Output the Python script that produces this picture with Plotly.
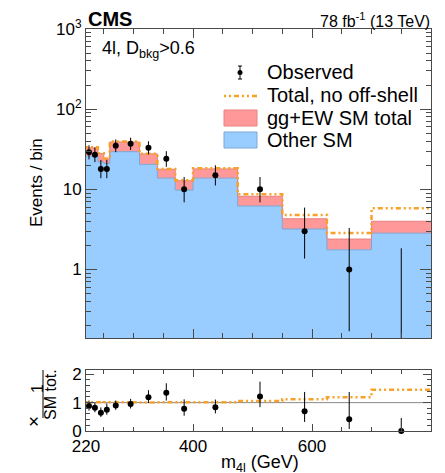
import plotly.graph_objects as go

# ---------------- data ----------------
edges = [220, 230, 240, 250, 260, 280, 310, 340, 370, 400, 475, 550, 625, 700, 800]
other_sm = [26, 26, 22, 21, 29.5, 29.5, 20.5, 13.8, 9.8, 13.8, 6.2, 3.2, 1.76, 2.84]
sm_total = [33, 33, 28, 24, 39, 39, 27.7, 17.8, 12.8, 18, 8.2, 4.3, 2.4, 4.0]
no_offshell = [33.5, 33.5, 28.3, 24.3, 39.5, 39.5, 27.9, 18.0, 13.0, 18.3, 8.7, 4.8, 2.85, 5.8]
observed = [29, 27, 18, 18, 35, 37, 33, 24, 10, 15, 10, 3, 1, 0]
obs_err_lo = [5.36, 5.17, 4.22, 4.22, 5.89, 6.06, 5.72, 4.88, 3.11, 3.82, 3.11, 1.63, 0.83, 0.0]
obs_err_hi = [6.44, 6.23, 5.30, 5.30, 6.97, 7.14, 6.80, 5.95, 4.27, 4.95, 4.27, 2.92, 2.30, 1.84]

x_tickvals = [220, 400, 600, 800]
x_ticktext = ["220", "400", "600", "800"]
x_minor = [250, 300, 350, 450, 500, 550, 650, 700, 750]
y_tickvals = [1, 10, 100, 1000]
y_ticktext = ["1", "10", "10<sup>2</sup>", "10<sup>3</sup>"]
y_minor = [m * d for d in (0.1, 1, 10, 100) for m in range(2, 10) if m * d > 0.14]
r_tickvals = [0, 1, 2]
r_ticktext = ["0", "1", "2"]
r_minor = [0.2, 0.4, 0.6, 0.8, 1.2, 1.4, 1.6, 1.8, 2.2]

# ---------------- style ----------------
FONT = "Liberation Sans, Arial, sans-serif"
BLUE = "#99ccff"
BLUE_LINE = "#7aa7d6"
RED = "#ff9999"
RED_LINE = "#e98080"
ORANGE = "#f7a128"
FRAME = "#4a4a4a"
ODASH = "2px,3px,2px,3px,5px,3px"

W, H = 445, 473
L, R, T, B = 86, 14, 29, 42
PW, PH = W - L - R, H - T - B


def px(xp):
    return (xp - L) / PW


def py(yp):
    return (H - B - yp) / PH


centers = [(edges[i] + edges[i + 1]) / 2 for i in range(len(edges) - 1)]


def step(vals):
    return list(vals) + [vals[-1]]


fig = go.Figure()

# baseline for fill
fig.add_trace(go.Scatter(x=edges, y=[0.01] * len(edges), mode="lines",
                         line=dict(width=0, shape="hv"), showlegend=False,
                         hoverinfo="skip", xaxis="x", yaxis="y"))
fig.add_trace(go.Scatter(x=edges, y=step(other_sm), mode="lines",
                         line=dict(color=BLUE_LINE, width=1, shape="hv"),
                         fill="tonexty", fillcolor=BLUE, showlegend=False,
                         xaxis="x", yaxis="y"))
fig.add_trace(go.Scatter(x=edges, y=step(sm_total), mode="lines",
                         line=dict(color=RED_LINE, width=1, shape="hv"),
                         fill="tonexty", fillcolor=RED, showlegend=False,
                         xaxis="x", yaxis="y"))
fig.add_trace(go.Scatter(x=edges, y=step(no_offshell), mode="lines",
                         line=dict(color=ORANGE, width=2.5, shape="hv", dash=ODASH),
                         showlegend=False, xaxis="x", yaxis="y"))
obs_plot = [v if v > 0 else 1e-4 for v in observed]
fig.add_trace(go.Scatter(x=centers, y=obs_plot, mode="markers",
                         marker=dict(color="black", size=6),
                         error_y=dict(type="data", array=obs_err_hi, arrayminus=obs_err_lo,
                                      symmetric=False, color="black", thickness=1, width=0),
                         showlegend=False, xaxis="x", yaxis="y"))

# ratio panel
ratio = [o / t for o, t in zip(observed, sm_total)]
ratio_lo = [e / t for e, t in zip(obs_err_lo, sm_total)]
ratio_hi = [e / t for e, t in zip(obs_err_hi, sm_total)]
ratio_orange = [n / t for n, t in zip(no_offshell, sm_total)]

fig.add_trace(go.Scatter(x=[edges[0], edges[-1]], y=[1, 1], mode="lines",
                         line=dict(color="#888888", width=1), showlegend=False,
                         xaxis="x2", yaxis="y2"))
fig.add_trace(go.Scatter(x=edges, y=step(ratio_orange), mode="lines",
                         line=dict(color=ORANGE, width=2.5, shape="hv", dash=ODASH),
                         showlegend=False, xaxis="x2", yaxis="y2"))
fig.add_trace(go.Scatter(x=centers, y=ratio, mode="markers",
                         marker=dict(color="black", size=6), cliponaxis=False,
                         error_y=dict(type="data", array=ratio_hi, arrayminus=ratio_lo,
                                      symmetric=False, color="black", thickness=1, width=0),
                         showlegend=False, xaxis="x2", yaxis="y2"))

axis_common = dict(showline=True, linecolor=FRAME, linewidth=1, mirror="ticks",
                   ticks="inside", tickcolor=FRAME, showgrid=False, zeroline=False,
                   tickfont=dict(family=FONT, size=17, color="black"))

main_bottom = py(338)
ratio_top = py(370)

fig.update_layout(
    width=W, height=H,
    margin=dict(l=L, r=R, t=T, b=B),
    paper_bgcolor="white", plot_bgcolor="white",
    showlegend=False,
    xaxis=dict(domain=[0, 1], range=[220, 800], anchor="y",
               tickmode="array", tickvals=x_tickvals, ticktext=x_ticktext,
               showticklabels=False, ticklen=9,
               minor=dict(tickvals=x_minor, ticklen=5, ticks="inside", tickcolor=FRAME),
               **axis_common),
    yaxis=dict(domain=[main_bottom, 1], type="log", range=[-0.854, 3.0], anchor="x",
               tickmode="array", tickvals=y_tickvals, ticktext=y_ticktext, ticklen=11,
               minor=dict(tickvals=y_minor, ticklen=5, ticks="inside", tickcolor=FRAME),
               **axis_common),
    xaxis2=dict(domain=[0, 1], range=[220, 800], anchor="y2",
                tickmode="array", tickvals=x_tickvals, ticktext=x_ticktext, ticklen=7,
                minor=dict(tickvals=x_minor, ticklen=4, ticks="inside", tickcolor=FRAME),
                **axis_common),
    yaxis2=dict(domain=[0, ratio_top], range=[0, 2.15], anchor="x2",
                tickmode="array", tickvals=r_tickvals, ticktext=r_ticktext, ticklen=8,
                minor=dict(tickvals=r_minor, ticklen=4, ticks="inside", tickcolor=FRAME),
                **axis_common),
)

ann = []
shapes = []


def text(xp, yp, s, size=17, anchor="left", angle=0, bold=False):
    ann.append(dict(x=px(xp), y=py(yp), xref="paper", yref="paper", text=("<b>%s</b>" % s) if bold else s,
                    showarrow=False, xanchor=anchor, yanchor="middle", textangle=angle,
                    font=dict(family=FONT, size=size, color="black")))


text(86, 19, "CMS", size=20, bold=True)
text(432, 20, "78 fb<sup>-1</sup> (13 TeV)", size=16, anchor="right")
text(100, 49, "4l, D<sub>bkg</sub>&gt;0.6", size=18)
text(36, 183, "Events / bin", size=17, anchor="center", angle=-90)
text(260, 464, "m<sub>4l</sub> (GeV)", size=18, anchor="center")

# ratio y label: x 1/(SM tot.)
text(33, 421, "×", size=19, anchor="center", angle=-90)
text(37, 389, "1", size=16, anchor="center", angle=-90)
shapes.append(dict(type="line", xref="paper", yref="paper", x0=px(43), x1=px(43),
                   y0=py(370), y1=py(418), line=dict(color="black", width=1)))
text(50, 395, "SM tot.", size=16, anchor="center", angle=-90)

# legend
LX = 265
text(LX, 72, "Observed", size=20)
text(LX, 95, "Total, no off-shell", size=20)
text(LX, 118, "gg+EW SM total", size=20)
text(LX, 140, "Other SM", size=20)
# observed symbol
shapes.append(dict(type="line", xref="paper", yref="paper", x0=px(240), x1=px(240),
                   y0=py(66), y1=py(79), line=dict(color="black", width=1)))
for yy in (66, 79):
    shapes.append(dict(type="line", xref="paper", yref="paper", x0=px(238), x1=px(242),
                       y0=py(yy), y1=py(yy), line=dict(color="black", width=1)))
shapes.append(dict(type="circle", xref="paper", yref="paper", x0=px(237.5), x1=px(242.5),
                   y0=py(70), y1=py(75), fillcolor="black", line=dict(color="black", width=0)))
# orange line
shapes.append(dict(type="line", xref="paper", yref="paper", x0=px(224), x1=px(258),
                   y0=py(96), y1=py(96), line=dict(color=ORANGE, width=2.5, dash=ODASH)))
# boxes
shapes.append(dict(type="rect", xref="paper", yref="paper", x0=px(224), x1=px(257),
                   y0=py(126), y1=py(110), fillcolor=RED, line=dict(color=RED_LINE, width=1)))
shapes.append(dict(type="rect", xref="paper", yref="paper", x0=px(224), x1=px(257),
                   y0=py(148), y1=py(132), fillcolor=BLUE, line=dict(color=BLUE_LINE, width=1)))

fig.update_layout(annotations=ann, shapes=shapes)

fig.write_html("out.html", config={"displayModeBar": False},
               post_script="document.body.style.margin='0px';")
